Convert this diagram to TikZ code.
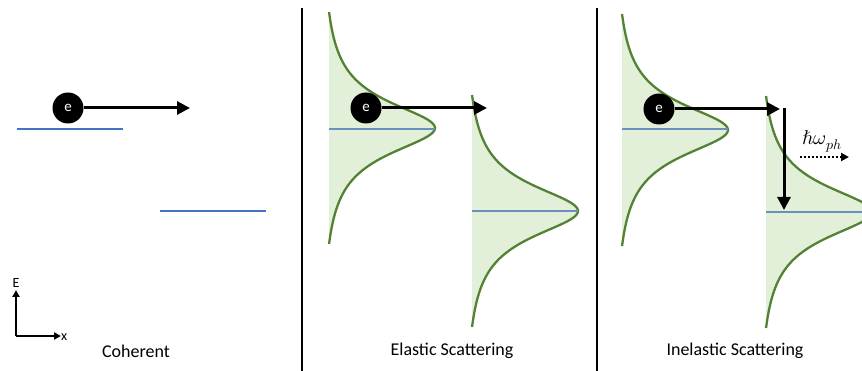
\documentclass[tikz,border=0pt]{standalone}
\usepackage{fontspec}
\usepackage{unicode-math}
\setmainfont{Carlito}
\setmathfont{Latin Modern Math}
\usetikzlibrary{arrows.meta}
\definecolor{lgreen}{HTML}{E2F0D9}
\definecolor{dgreen}{HTML}{548235}
\definecolor{lblue}{HTML}{4472C4}
\definecolor{sblue}{HTML}{6A90BD}
\newcommand\lorpeak[2]{%
  \fill[lgreen] plot[domain=-116:116,samples=120] ({#1+114/(1+(\x/32)^2)-8},{#2+\x}) -- cycle;
  \draw[dgreen,line width=2.3pt] plot[domain=-116:116,samples=120] ({#1+114/(1+(\x/32)^2)-8},{#2+\x});
}
\tikzset{
  electron/.style={circle,fill=black,minimum size=31pt,inner sep=0pt,text=white,font=\fontsize{15}{15}\selectfont},
  bigarrow/.style={line width=3pt,-{Triangle[length=13pt,width=13pt]}},
  axisarrow/.style={line width=2pt,-{Triangle[length=7pt,width=7pt]}},
  level/.style={lblue,line width=2.7pt},
  slevel/.style={sblue,line width=2.7pt},
  divider/.style={line width=2pt},
  caption/.style={font=\fontsize{18}{21}\selectfont},
  axlabel/.style={font=\fontsize{14}{16}\selectfont,inner sep=1pt}
}
\begin{document}
\begin{tikzpicture}[x=1pt,y=-1pt]
\useasboundingbox (0,0) rectangle (862,371);
\clip (0,0) rectangle (862,371);
% dividers
\draw[divider] (302,8) -- (302,371);
\draw[divider] (597,8) -- (597,371);
% Coherent
\draw[level] (17,129) -- (123,129);
\draw[level] (160,211) -- (266,211);
\node[electron] (e1) at (68,108) {e};
\coordinate (c1) at (190,108);
\draw[bigarrow] (e1.east) -- (c1);
\coordinate (o) at (16,336);
\coordinate (ytop) at (16,290);
\coordinate (xend) at (61,336);
\draw[axisarrow] (o) -- (ytop);
\draw[axisarrow] (o) -- (xend);
\node[axlabel] (E) at (16,283) {E};
\node[axlabel,anchor=west] (X) at (60,337) {x};
\node[caption] (t1) at (136,351) {Coherent};
% Elastic
\lorpeak{329}{128}
\draw[slevel] (329,129) -- (435,129);
\lorpeak{472}{211}
\draw[slevel] (472,211) -- (578,211);
\node[electron] (e2) at (366,108) {e};
\coordinate (c2) at (487,108);
\draw[bigarrow] (e2.east) -- (c2);
\node[caption] (t2) at (452,351) {Elastic Scattering};
% Inelastic
\lorpeak{622}{130}
\draw[slevel] (622,129) -- (728,129);
\lorpeak{766}{212}
\draw[slevel] (766,212) -- (872,212);
\node[electron] (e3) at (659,109) {e};
\coordinate (c3) at (780,109);
\draw[bigarrow] (e3.east) -- (c3);
\coordinate (d1) at (784,108);
\coordinate (d2) at (784,210);
\draw[bigarrow] (d1) -- (d2);
\node[font=\fontsize{20}{22}\selectfont,inner sep=0pt] (hw) at (822,141) {$\hbar\omega_{ph}$};
\coordinate (p1) at (800,157);
\coordinate (p2) at (849,157);
\draw[line width=2pt,dotted,-{Triangle[length=8pt,width=8pt]}] (p1) -- (p2);
\node[caption] (t3) at (735,351) {Inelastic Scattering};
\end{tikzpicture}
\end{document}
